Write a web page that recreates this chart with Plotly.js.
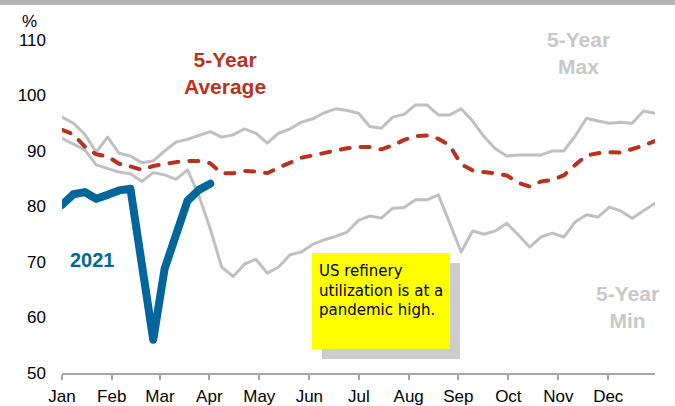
<!DOCTYPE html>
<html>
<head>
<meta charset="utf-8">
<script src="https://cdn.plot.ly/plotly-3.0.1.min.js"></script>
<style>
html,body{margin:0;padding:0;background:#fff;}
#chart{width:675px;height:406px;}
#chart .scatterlayer path.js-line{stroke-linejoin:round !important;stroke-linecap:round !important;}
</style>
</head>
<body>
<div id="chart"></div>
<script>
// Week index (53 weekly points across the year)
const weeks = [0,1,2,3,4,5,6,7,8,9,10,11,12,13,14,15,16,17,18,19,20,21,22,23,24,25,26,27,28,29,30,31,32,33,34,35,36,37,38,39,40,41,42,43,44,45,46,47,48,49,50,51,52];
const weeks2021 = [0,1,2,3,4,5,6,7,8,9,10,11,12,13];

const max5 = [96.1,95.0,93.0,89.8,92.5,89.6,89.1,87.9,88.2,90.0,91.6,92.1,92.8,93.5,92.5,92.9,94.0,93.2,91.4,93.2,94.0,95.2,95.8,96.9,97.6,97.3,96.8,94.4,94.1,96.1,96.6,98.3,98.3,96.5,96.5,97.6,95.4,92.6,90.4,89.1,89.3,89.3,89.3,90.0,90.0,92.7,95.9,95.4,95.0,95.2,95.0,97.2,96.8];
const min5 = [92.3,91.2,90.2,87.5,86.8,86.2,85.9,84.5,86.1,85.7,84.9,86.6,82.0,76.0,69.1,67.4,69.6,70.5,68.0,69.1,71.3,71.8,73.2,74.0,74.6,75.4,77.5,78.3,77.9,79.7,79.8,81.2,81.2,82.1,77.0,71.8,75.6,75.0,75.6,77.0,74.9,72.7,74.5,75.2,74.5,77.2,78.5,78.1,79.9,79.2,77.9,79.2,80.6];
const avg5 = [93.8,93.0,90.8,89.4,89.0,87.7,87.2,86.6,87.3,87.7,88.0,88.2,88.2,87.8,86.0,86.0,86.4,86.3,86.0,87.0,87.9,88.8,89.2,89.7,90.1,90.5,90.7,90.7,90.3,91.0,92.0,92.7,92.8,92.2,91.0,87.6,86.5,86.2,86.0,85.6,84.3,83.6,84.5,84.8,85.6,87.5,89.2,89.6,89.8,89.7,90.3,91.0,91.8];
const y2021 = [80.3,82.2,82.6,81.4,82.1,82.9,83.2,69.8,56.0,68.8,75.0,81.0,83.0,84.1];

const monthLabels = ["Jan","Feb","Mar","Apr","May","Jun","Jul","Aug","Sep","Oct","Nov","Dec"];
const monthTicks = [0,4.36,8.59,12.92,17.3,21.69,26.04,30.4,34.75,39.14,43.52,47.9];
const yTicks = [50,60,70,80,90,100,110];

const FONT = "Liberation Sans, Arial, sans-serif";
const RED = "#b8321f", BLUE = "#00669b", GRAY = "#c0c0c0", LABELGRAY = "#c8c8c8";

// pixel helpers for paper coordinates
const L = 62, T = 40, PW = 593, PH = 333;
const px = x => (x - L) / PW;
const py = y => (T + PH - y) / PH;

const traces = [
  {x: weeks, y: max5, type: "scatter", mode: "lines", line: {color: GRAY, width: 3}, hoverinfo: "skip"},
  {x: weeks, y: min5, type: "scatter", mode: "lines", line: {color: GRAY, width: 3}, hoverinfo: "skip"},
  {x: weeks, y: avg5, type: "scatter", mode: "lines", line: {color: RED, width: 4, dash: "9px,11px"}, hoverinfo: "skip"},
  {x: weeks2021, y: y2021, type: "scatter", mode: "lines", line: {color: BLUE, width: 8}, hoverinfo: "skip"}
];

const layout = {
  width: 675, height: 406,
  margin: {l: L, r: 675 - L - PW, t: T, b: 406 - T - PH, pad: 0},
  paper_bgcolor: "#fff", plot_bgcolor: "#fff",
  showlegend: false,
  font: {family: FONT, color: "#000", size: 17},
  xaxis: {
    range: [0, 52], tickvals: monthTicks, ticktext: monthLabels,
    showgrid: false, zeroline: false, showline: true, linecolor: "#a6a6a6", linewidth: 2,
    ticks: "outside", ticklen: 5, tickcolor: "#a6a6a6", tickwidth: 2,
    ticklabelstandoff: 2,
    tickfont: {family: FONT, size: 17, color: "#000"}, fixedrange: true
  },
  yaxis: {
    range: [50, 110], tickvals: yTicks,
    showgrid: false, zeroline: false, showline: false, ticks: "",
    ticklabelstandoff: 15,
    tickfont: {family: FONT, size: 17, color: "#000"}, fixedrange: true
  },
  shapes: [
    {type: "rect", xref: "paper", yref: "paper", x0: -0.2, x1: 1.1, y0: py(5), y1: py(0), fillcolor: "#b3b3b3", line: {width: 0}},
    {type: "rect", xref: "paper", yref: "paper", x0: px(322), x1: px(460), y0: py(359), y1: py(263), fillcolor: "#cccccc", line: {width: 0}, layer: "below"},
    {type: "rect", xref: "paper", yref: "paper", x0: px(312), x1: px(450), y0: py(349), y1: py(253), fillcolor: "#ffff00", line: {width: 0}, layer: "below"}
  ],
  annotations: [
    {xref: "paper", yref: "paper", x: px(29), y: py(21), text: "%", showarrow: false, xanchor: "center", yanchor: "middle", font: {family: FONT, size: 17, color: "#000"}},
    {xref: "paper", yref: "paper", x: px(225), y: py(73), text: "<b>5-Year<br>Average</b>", showarrow: false, xanchor: "center", yanchor: "middle", align: "center", font: {family: FONT, size: 21, color: RED}},
    {xref: "paper", yref: "paper", x: px(578), y: py(53), text: "<b>5-Year<br>Max</b>", showarrow: false, xanchor: "center", yanchor: "middle", align: "center", font: {family: FONT, size: 21, color: LABELGRAY}},
    {xref: "paper", yref: "paper", x: px(627), y: py(307), text: "<b>5-Year<br>Min</b>", showarrow: false, xanchor: "center", yanchor: "middle", align: "center", font: {family: FONT, size: 21, color: LABELGRAY}},
    {xref: "paper", yref: "paper", x: px(92), y: py(260), text: "<b>2021</b>", showarrow: false, xanchor: "center", yanchor: "middle", font: {family: FONT, size: 20, color: BLUE}},
    {xref: "paper", yref: "paper", x: px(317), y: py(260), text: "US refinery<br>utilization is at a<br>pandemic high.", showarrow: false, xanchor: "left", yanchor: "top", align: "left", font: {family: "Comic Sans MS, DejaVu Sans, sans-serif", size: 15, color: "#000"}}
  ]
};

Plotly.newPlot("chart", traces, layout, {displayModeBar: false, staticPlot: true});
</script>
</body>
</html>
